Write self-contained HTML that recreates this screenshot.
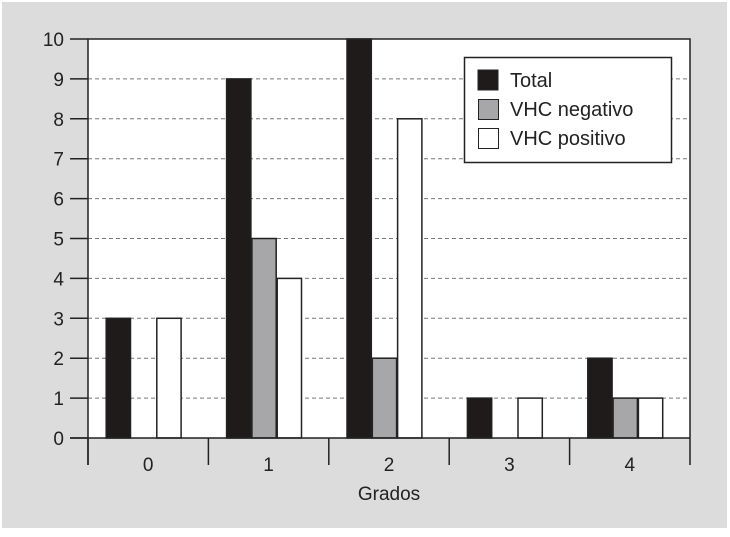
<!DOCTYPE html>
<html><head><meta charset="utf-8"><style>
html,body{margin:0;padding:0;background:#fff;}
svg text{font-family:"Liberation Sans",sans-serif;fill:#222;}
</style></head><body>
<svg width="730" height="532">
<rect x="2" y="2" width="725" height="526" fill="#dcdcdc"/>
<rect x="88" y="39" width="602" height="399" fill="#fff"/>
<g id="grid"></g><g id="bars"></g><g id="axes"></g>
<g>
<rect x="464.5" y="57.5" width="207" height="105" fill="#fff" stroke="#222" stroke-width="1.5"/>
<rect x="478" y="70" width="20" height="20" fill="#1f1b1b" stroke="#222"/>
<text x="510" y="87" font-size="20">Total</text>
<rect x="478.5" y="99.5" width="20" height="20" fill="#a7a7a9" stroke="#222"/>
<text x="510" y="116" font-size="20">VHC negativo</text>
<rect x="478.5" y="128.5" width="20" height="20" fill="#fff" stroke="#222"/>
<text x="510" y="145" font-size="20">VHC positivo</text>
</g>
<text x="389" y="500" font-size="19" text-anchor="middle">Grados</text>
</svg>
<script>
const categories=["0","1","2","3","4"];
const totalVals=[3,9,10,1,2];
const negVals=[0,5,2,0,1];
const posVals=[3,4,8,1,1];
const yTicks=[0,1,2,3,4,5,6,7,8,9,10];
const NS="http://www.w3.org/2000/svg";
const L=88,R=690,T=39,B=438;
const y=v=>B-(v/10)*(B-T);
const bw=(R-L)/categories.length;
const xc=i=>L+bw*(i+0.5);
function mk(tag,at,parent){const e=document.createElementNS(NS,tag);for(const k in at)e.setAttribute(k,at[k]);document.getElementById(parent).appendChild(e);return e;}
yTicks.forEach(t=>{
  if(t>0&&t<10){const g=mk('line',{x1:L,x2:R,y1:y(t),y2:y(t),stroke:'#777','stroke-dasharray':'4,3','stroke-width':1},'grid');
  
  }
  const tk=mk('line',{x1:70,x2:L,y1:y(t),y2:y(t),stroke:'#222','stroke-width':1.5},'axes');
  
  
  const tx=mk('text',{x:64,y:y(t)+7,'font-size':19,'text-anchor':'end'},'axes');
  tx.textContent=t;
  
  
});
const series=[[totalVals,'#1f1b1b','total'],[negVals,'#a7a7a9','negativo'],[posVals,'#fff','positivo']];
const w=25.3;
categories.forEach((c,i)=>{
  series.forEach(([vals,col,nm],s)=>{
    const v=vals[i]; if(v<=0)return;
    const r=mk('rect',{x:xc(i)-42.5+s*w+0.5,y:y(v),width:w-1,height:B-y(v),fill:col,stroke:'#222','stroke-width':1.5},'bars');
    
    
  });
  const l=mk('text',{x:xc(i),y:471,'font-size':19,'text-anchor':'middle'},'axes');
  l.textContent=c;
  
  
});
for(let i=0;i<=categories.length;i++){
  const t=mk('line',{x1:L+bw*i,x2:L+bw*i,y1:B,y2:465,stroke:'#222','stroke-width':1.5},'axes');
  
  
}
const ax=mk('path',{d:`M${L} 465 V${T} H${R} V${B} M70 ${B} H${R}`,fill:'none',stroke:'#222','stroke-width':1.5},'axes');


</script>
</body></html>
